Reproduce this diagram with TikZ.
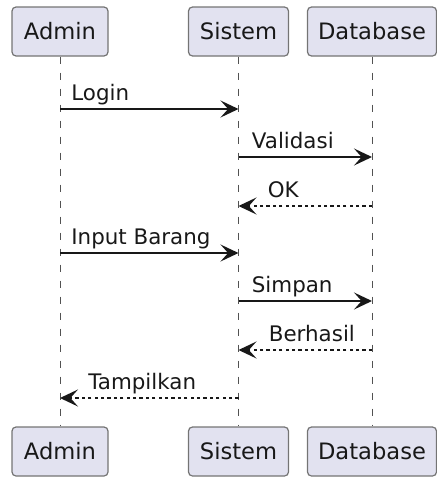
\documentclass[tikz,border=0pt]{standalone}
\usepackage{fontspec}
\setmainfont{DejaVu Sans}
\usepackage{xcolor}
\usepackage{tikz}
\usetikzlibrary{positioning}
\usetikzlibrary{arrows.meta}
\definecolor{partfill}{HTML}{E2E2F0}
\definecolor{lineclr}{HTML}{181818}

\begin{document}
\begin{tikzpicture}[x=0.5pt,y=-0.5pt]
	\tikzstyle{Part} = [draw=lineclr!60, fill=partfill, rounded corners=2pt, line width=0.6pt, minimum height=24.5pt, inner sep=0pt, font=\fontsize{11.3}{13}\selectfont, text=lineclr]
	\tikzstyle{Life} = [draw=lineclr!75, line width=0.5pt, dash pattern=on 3.5pt off 4.5pt]
	\tikzstyle{Call} = [draw=lineclr, line width=0.8pt, -{Stealth[length=9pt,width=8.5pt,inset=3.8pt]}]
	\tikzstyle{Ret}  = [Call, dash pattern=on 1.6pt off 1.6pt]
	\tikzstyle{Msg}  = [anchor=base west, inner sep=0pt, font=\fontsize{10.7}{12}\selectfont, text=lineclr]
	\useasboundingbox (0,0) rectangle (437,477);
	% participants
	\node[Part, minimum width=48pt]   (A) at (60,31.5)   {Admin};
	\node[Part, minimum width=50pt]   (S) at (238.5,31.5) {Sistem};
	\node[Part, minimum width=64.5pt] (D) at (372,31.5)  {Database};
	\node[Part, minimum width=48pt]   (A2) at (60,451.5)   {Admin};
	\node[Part, minimum width=50pt]   (S2) at (238.5,451.5) {Sistem};
	\node[Part, minimum width=64.5pt] (D2) at (372,451.5)  {Database};
	% lifelines
	\draw[Life] (A.south) -- (A2.north);
	\draw[Life] (S.south) -- (S2.north);
	\draw[Life] (D.south) -- (D2.north);
	% messages
	\draw[Call] (A |- 0,109) -- (S |- 0,109);
	\node[Msg, xshift=5.5pt] (mLogin) at (A |- 0,100) {Login};
	\draw[Call] (S |- 0,157) -- (D |- 0,157);
	\node[Msg, xshift=6.5pt] (mValidasi) at (S |- 0,148) {Validasi};
	\draw[Ret] (D |- 0,206) -- (S |- 0,206);
	\node[Msg, xshift=14.5pt] (mOK) at (S |- 0,197) {OK};
	\draw[Call] (A |- 0,253) -- (S |- 0,253);
	\node[Msg, xshift=5.5pt] (mInput) at (A |- 0,244) {Input Barang};
	\draw[Call] (S |- 0,301) -- (D |- 0,301);
	\node[Msg, xshift=6.5pt] (mSimpan) at (S |- 0,292) {Simpan};
	\draw[Ret] (D |- 0,350) -- (S |- 0,350);
	\node[Msg, xshift=15pt] (mBerhasil) at (S |- 0,341) {Berhasil};
	\draw[Ret] (S |- 0,398) -- (A |- 0,398);
	\node[Msg, xshift=14pt] (mTampil) at (A |- 0,389) {Tampilkan};
\end{tikzpicture}
\end{document}
